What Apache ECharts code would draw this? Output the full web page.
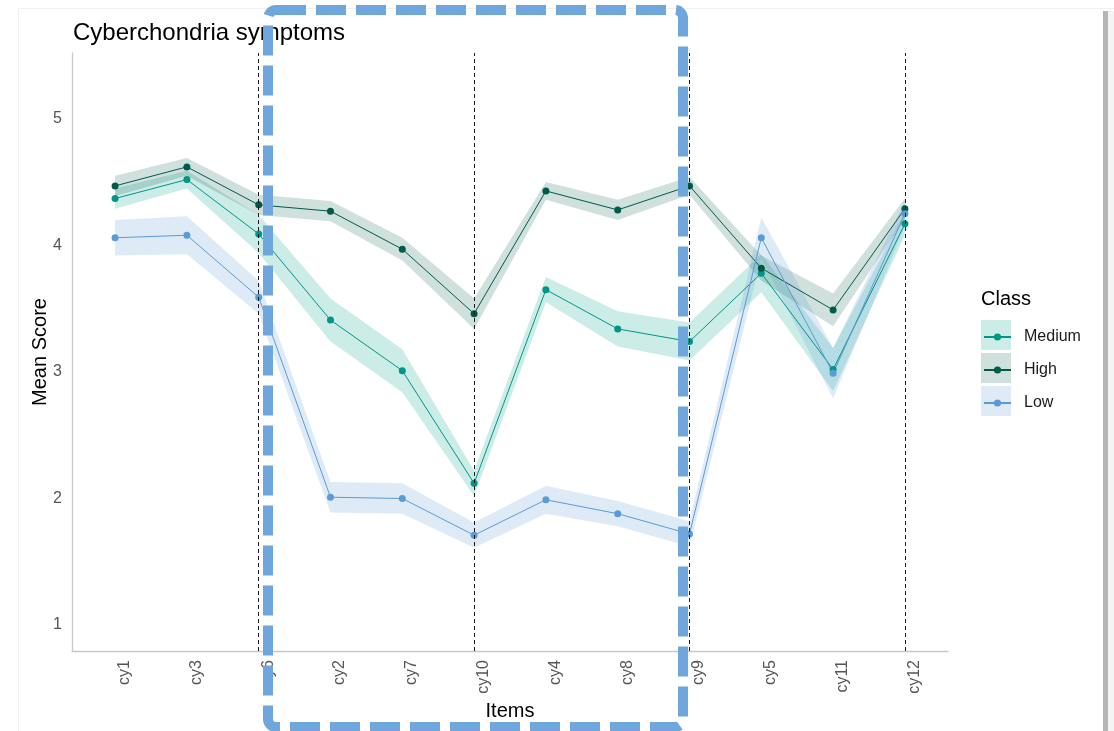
<!DOCTYPE html>
<html>
<head>
<meta charset="utf-8">
<title>Cyberchondria symptoms</title>
<script src="https://cdn.jsdelivr.net/npm/echarts@6/dist/echarts.min.js"></script>
<style>
  html, body { margin: 0; padding: 0; background: #fff; }
  #chart { width: 1114px; height: 731px; }
</style>
</head>
<body>
<div id="chart"></div>
<script>
// Items in display order
const categories = ['cy1', 'cy3', 'cy6', 'cy2', 'cy7', 'cy10', 'cy4', 'cy8', 'cy9', 'cy5', 'cy11', 'cy12'];

// Mean score per class
const mediumMean = [4.37, 4.52, 4.09, 3.41, 3.01, 2.12, 3.65, 3.34, 3.24, 3.78, 3.02, 4.17];
const highMean   = [4.47, 4.62, 4.32, 4.27, 3.97, 3.46, 4.43, 4.28, 4.47, 3.82, 3.49, 4.29];
const lowMean    = [4.06, 4.08, 3.59, 2.01, 2.00, 1.71, 1.99, 1.88, 1.72, 4.06, 2.99, 4.25];

// Half-width of the confidence ribbon per class
const mediumMargin = [0.08, 0.07, 0.15, 0.17, 0.17, 0.10, 0.10, 0.14, 0.15, 0.15, 0.17, 0.09];
const highMargin   = [0.08, 0.07, 0.08, 0.08, 0.09, 0.12, 0.07, 0.08, 0.07, 0.10, 0.13, 0.08];
const lowMargin    = [0.14, 0.15, 0.13, 0.12, 0.12, 0.10, 0.11, 0.10, 0.10, 0.16, 0.20, 0.10];

// Items marked with a vertical dashed divider
const dividerItems = ['cy6', 'cy10', 'cy9', 'cy12'];

// Y axis tick values
const yTicks = [1, 2, 3, 4, 5];

const FONT = '"Liberation Sans", Arial, sans-serif';

const classes = [
  { name: 'Medium', mean: mediumMean, margin: mediumMargin, color: '#009687', band: 'rgba(0,158,135,0.20)' },
  { name: 'High',   mean: highMean,   margin: highMargin,   color: '#005A4B', band: 'rgba(0,90,75,0.19)' },
  { name: 'Low',    mean: lowMean,    margin: lowMargin,    color: '#5B9BD5', band: 'rgba(91,155,213,0.20)' }
];

const xPos = i => i + 1;

function bandSeries(c) {
  return {
    type: 'custom',
    name: c.name + ' ribbon',
    z: 1,
    silent: true,
    data: c.mean.map((v, i) => [xPos(i), v]),
    encode: { x: 0, y: 1 },
    renderItem: function (params, api) {
      if (params.dataIndex !== 0) return null;
      const upper = c.mean.map((v, i) => api.coord([xPos(i), v + c.margin[i]]));
      const lower = c.mean.map((v, i) => api.coord([xPos(i), v - c.margin[i]])).reverse();
      return {
        type: 'polygon',
        shape: { points: upper.concat(lower) },
        style: { fill: c.band }
      };
    }
  };
}

function lineSeries(c, extra) {
  return Object.assign({
    type: 'line',
    name: c.name,
    z: 3,
    data: c.mean.map((v, i) => [xPos(i), v]),
    symbol: 'circle',
    symbolSize: 7,
    showSymbol: true,
    itemStyle: { color: c.color },
    lineStyle: { color: c.color, width: 1 },
    emphasis: { disabled: true }
  }, extra || {});
}

const dividerLines = {
  silent: true,
  symbol: ['none', 'none'],
  label: { show: false },
  lineStyle: { color: '#1a1a1a', type: [4, 3], width: 1 },
  data: dividerItems.map(name => ({ xAxis: xPos(categories.indexOf(name)) })),
  z: 5
};

const series = [];
classes.forEach(c => series.push(bandSeries(c)));
classes.forEach((c, k) => series.push(lineSeries(c, k === 2 ? { markLine: dividerLines } : null)));

// Legend key backgrounds
const keyTop = 320, keyStep = 33;
const keyRects = classes.map((c, k) => ({
  type: 'rect',
  z: 1,
  shape: { x: 981, y: keyTop + k * keyStep, width: 30, height: 30 },
  style: { fill: c.band }
}));

const chart = echarts.init(document.getElementById('chart'), null, { renderer: 'canvas' });

chart.setOption({
  animation: false,
  backgroundColor: '#ffffff',
  textStyle: { fontFamily: FONT },
  title: {
    text: 'Cyberchondria symptoms',
    left: 68,
    top: 16,
    textStyle: { fontFamily: FONT, fontSize: 24, fontWeight: 'normal', color: '#000' }
  },
  grid: { left: 72, right: 166, top: 53, bottom: 80, containLabel: false },
  xAxis: {
    type: 'value',
    min: 0.4,
    max: 12.6,
    name: 'Items',
    nameLocation: 'middle',
    nameGap: 50,
    nameMoveOverlap: false,
    nameTextStyle: { fontFamily: FONT, fontSize: 20, color: '#000' },
    axisLine: { show: true, lineStyle: { color: '#c8c8c8', width: 1.3 } },
    axisTick: { show: false },
    splitLine: { show: false },
    axisLabel: {
      customValues: categories.map((_, i) => xPos(i)),
      formatter: v => categories[Math.round(v) - 1] || '',
      rotate: 90,
      verticalAlign: 'top',
      lineHeight: 19,
      margin: 9,
      fontSize: 16,
      color: '#555',
      fontFamily: FONT
    }
  },
  yAxis: {
    type: 'value',
    min: 0.795,
    max: 5.52,
    name: 'Mean Score',
    nameLocation: 'middle',
    nameRotate: 90,
    nameGap: 22,
    nameMoveOverlap: false,
    nameTextStyle: { fontFamily: FONT, fontSize: 20, color: '#000' },
    axisLine: { show: true, lineStyle: { color: '#c8c8c8', width: 1.3 } },
    axisTick: { show: false },
    splitLine: { show: false },
    axisLabel: {
      customValues: yTicks,
      margin: 10,
      fontSize: 16,
      color: '#555',
      fontFamily: FONT
    }
  },
  legend: {
    orient: 'vertical',
    left: 978,
    top: 324,
    itemWidth: 27,
    itemHeight: 9,
    itemGap: 17,
    data: classes.map(c => c.name),
    selectedMode: false,
    textStyle: { fontFamily: FONT, fontSize: 16, color: '#1a1a1a', lineHeight: 16, padding: [0, 0, 0, 8] }
  },
  graphic: [
    // page frame
    { type: 'rect', z: -10, silent: true,
      shape: { x: 18.5, y: 8.5, width: 1100, height: 740 },
      style: { fill: 'none', stroke: '#f0f0f0', lineWidth: 1 } },
    { type: 'rect', z: -10, silent: true,
      shape: { x: 1103, y: 11, width: 5, height: 720 },
      style: { fill: '#b6b6b6' } },
    { type: 'rect', z: -10, silent: true,
      shape: { x: 1108, y: 11, width: 6, height: 720 },
      style: { fill: '#f4f4f4' } },
    // legend title and key backgrounds
    { type: 'text', z: 5,
      style: { text: 'Class', x: 981, y: 299, fontSize: 20, fontFamily: FONT, fill: '#000', verticalAlign: 'middle' } }
  ].concat(keyRects).concat([
    // highlighted item range
    { type: 'rect', z: 100, silent: true,
      shape: { x: 268, y: 10, width: 415, height: 717, r: 8 },
      style: { fill: 'none', stroke: '#6FA6DB', lineWidth: 10, lineDash: [30, 10] } }
  ]),
  series: series
});
</script>
</body>
</html>
